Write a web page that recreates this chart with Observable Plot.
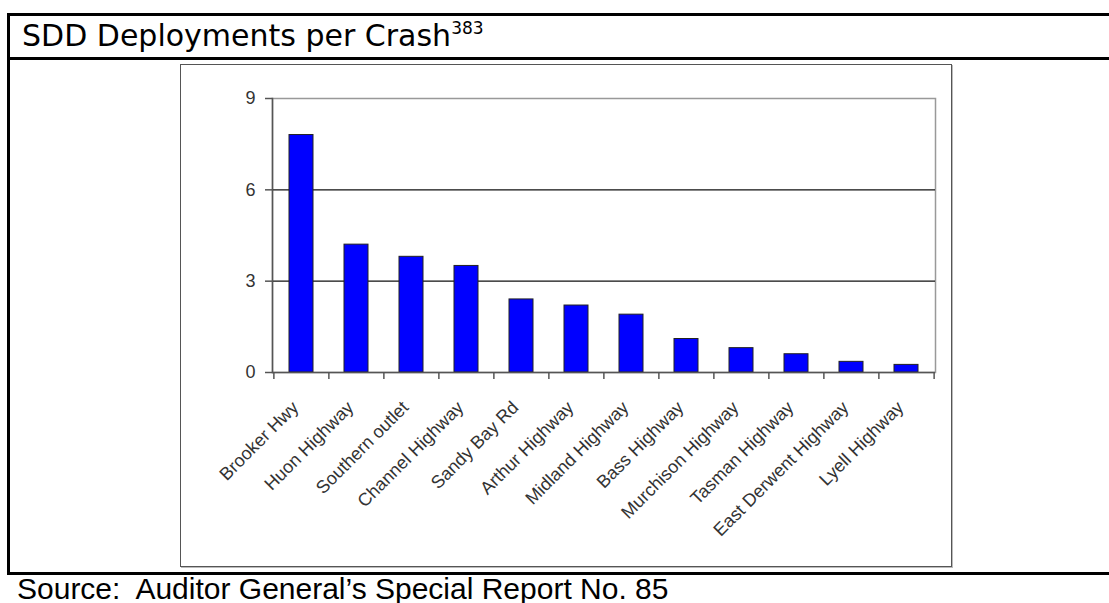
<!DOCTYPE html>
<html>
<head>
<meta charset="utf-8">
<script src="https://cdn.jsdelivr.net/npm/d3@7"></script>
<script src="https://cdn.jsdelivr.net/npm/@observablehq/plot@0.6"></script>
<style>
  html, body { margin: 0; padding: 0; background: #fff; }
  body { width: 1109px; height: 603px; position: relative; overflow: hidden; }
  .rule { position: absolute; background: #000; }
  #title {
    position: absolute; left: 22px; top: 16px; line-height: 40px;
    font-family: "DejaVu Sans", Verdana, sans-serif; font-size: 30px; color: #000; white-space: nowrap;
  }
  #title sup { font-size: 17px; vertical-align: 12px; line-height: 0; }
  #chartbox {
    position: absolute; left: 180px; top: 64px; width: 770px; height: 501px;
    border: 1px solid #555; box-shadow: 1px 1px 0 #bbb;
  }
  #chartbox svg { display: block; }
  #source {
    position: absolute; left: 17px; top: 572px; line-height: 34px;
    font-family: "Liberation Sans", Arial, sans-serif; font-size: 30px; color: #000; white-space: nowrap;
  }
</style>
</head>
<body>
<div class="rule" style="left:7px; top:13px; width:1110px; height:3px"></div>
<div class="rule" style="left:7px; top:13px; width:3px; height:562px"></div>
<div class="rule" style="left:7px; top:57px; width:1110px; height:3px"></div>
<div class="rule" style="left:7px; top:572px; width:1110px; height:3px"></div>
<div id="title">SDD Deployments per Crash<sup>383</sup></div>
<div id="chartbox"></div>
<div id="source">Source:&nbsp; Auditor General’s Special Report No. 85</div>
<script>
// Roads and SDD deployments per crash
const roads = [
  "Brooker Hwy", "Huon Highway", "Southern outlet", "Channel Highway",
  "Sandy Bay Rd", "Arthur Highway", "Midland Highway", "Bass Highway",
  "Murchison Highway", "Tasman Highway", "East Derwent Highway", "Lyell Highway"
];
const deployments = [7.8, 4.2, 3.8, 3.5, 2.4, 2.2, 1.9, 1.1, 0.8, 0.6, 0.35, 0.25];
const yTicks = [0, 3, 6, 9];
const gridLines = [3, 6];

const data = roads.map((road, i) => ({road, value: deployments[i]}));

const width = 770, height = 501;
const margin = {top: 33, right: 16, bottom: 194, left: 91};
const step = (width - margin.left - margin.right) / roads.length;

const chart = Plot.plot({
  width, height,
  marginTop: margin.top, marginRight: margin.right,
  marginBottom: margin.bottom, marginLeft: margin.left,
  style: {fontFamily: "'Liberation Sans', Arial, sans-serif", fontSize: "18px", color: "#222", background: "#fff", overflow: "visible"},
  x: {domain: roads, paddingInner: 0.57, paddingOuter: 0.285, label: null},
  y: {domain: [0, 9], label: null},
  marks: [
    Plot.frame({stroke: "#999", strokeWidth: 1.5}),
    Plot.ruleY(gridLines, {stroke: "#111", strokeWidth: 1.3}),
    Plot.barY(data, {x: "road", y: "value", fill: "#0000ff", stroke: "#222", strokeWidth: 1}),
    Plot.frame({anchor: "left", stroke: "#555", strokeWidth: 1.5}),
    Plot.ruleY([0], {stroke: "#555", strokeWidth: 1.5}),
    Plot.axisY({ticks: yTicks, tickSize: 7, tickPadding: 10, stroke: "#555", strokeWidth: 1.5, fill: "#333"}),
    // tick marks on category boundaries
    Plot.axisX({ticks: roads, tickSize: 7, tickFormat: null, dx: -step / 2, stroke: "#555", strokeWidth: 1.5}),
    Plot.axisX({ticks: roads.slice(-1), tickSize: 7, tickFormat: null, dx: step / 2, stroke: "#555", strokeWidth: 1.5}),
    Plot.axisX({tickSize: 0, tickPadding: 32, tickRotate: -45, dx: -6, fill: "#333"})
  ]
});
document.getElementById("chartbox").appendChild(chart);
</script>
</body>
</html>
